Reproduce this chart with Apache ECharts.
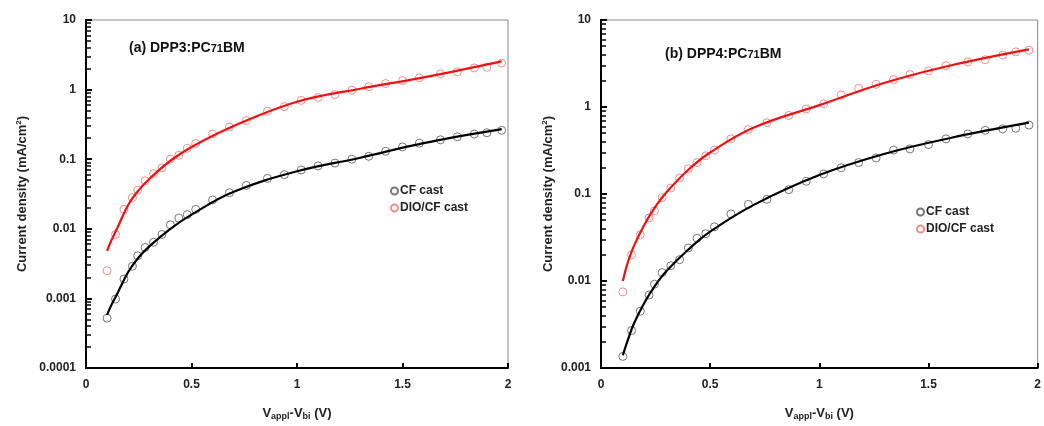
<!DOCTYPE html>
<html><head><meta charset="utf-8">
<script src="https://cdn.jsdelivr.net/npm/echarts@6/dist/echarts.min.js"></script>
<style>html,body{margin:0;padding:0;background:#fff}#c{width:1044px;height:426px}</style>
</head><body><div id="c"></div>
<script>
// ---- Panel (a) DPP3:PC71BM ----
var xA = [0.1,0.14,0.18,0.22,0.245,0.28,0.32,0.36,0.40,0.44,0.48,0.52,0.60,0.68,0.76,0.86,0.94,1.02,1.10,1.18,1.26,1.34,1.42,1.50,1.58,1.68,1.76,1.84,1.90,1.97];
var cfA = [0.00052,0.00098,0.0019,0.0029,0.0041,0.0054,0.0064,0.0083,0.0114,0.0143,0.016,0.019,0.026,0.033,0.042,0.053,0.060,0.070,0.080,0.088,0.10,0.11,0.13,0.15,0.17,0.19,0.21,0.23,0.24,0.26];
var dioA = [0.0025,0.0083,0.019,0.028,0.036,0.049,0.062,0.075,0.10,0.114,0.143,0.168,0.23,0.29,0.36,0.49,0.57,0.70,0.77,0.85,0.98,1.1,1.22,1.35,1.48,1.68,1.8,2.05,2.1,2.4];
var fitXA = [0.1,0.12,0.15,0.2,0.25,0.3,0.4,0.5,0.7,1.0,1.3,1.6,1.97];
var cfFitA = [0.00058,0.0008,0.0012,0.0024,0.0039,0.0056,0.0100,0.016,0.034,0.067,0.105,0.17,0.27];
var dioFitA = [0.0048,0.0068,0.0105,0.022,0.036,0.052,0.095,0.15,0.30,0.67,1.03,1.5,2.55];
// ---- Panel (b) DPP4:PC71BM ----
var xB = [0.1,0.14,0.18,0.22,0.245,0.28,0.32,0.36,0.40,0.44,0.48,0.52,0.595,0.675,0.76,0.86,0.94,1.02,1.10,1.18,1.26,1.34,1.415,1.50,1.58,1.68,1.76,1.84,1.90,1.96];
var cfB = [0.00136,0.0027,0.0045,0.0069,0.0092,0.0125,0.015,0.0176,0.024,0.031,0.035,0.042,0.059,0.076,0.087,0.112,0.14,0.17,0.20,0.23,0.26,0.32,0.33,0.37,0.43,0.49,0.54,0.56,0.57,0.62];
var dioB = [0.0075,0.020,0.034,0.053,0.064,0.091,0.117,0.153,0.195,0.23,0.275,0.32,0.43,0.55,0.66,0.80,0.95,1.09,1.38,1.64,1.82,2.07,2.36,2.6,2.99,3.3,3.5,3.95,4.3,4.5];
var fitXB = [0.1,0.12,0.15,0.2,0.25,0.3,0.4,0.5,0.7,1.0,1.3,1.6,1.96];
var cfFitB = [0.0014,0.002,0.0032,0.0057,0.0090,0.013,0.023,0.037,0.075,0.165,0.29,0.44,0.66];
var dioFitB = [0.010,0.0155,0.025,0.045,0.072,0.105,0.19,0.30,0.58,1.05,1.9,3.0,4.6];
// ---- tick labels ----
var xTicks = ['0','0.5','1','1.5','2'];
var decadesA = [1e-4,1e-3,1e-2,1e-1,1];
var decadesB = [1e-3,1e-2,1e-1,1];
var minorMult = [2,3,4,5,6,7,8,9];
function minorVals(decs){ var out=[]; decs.forEach(function(d){ minorMult.forEach(function(k){ out.push(+(d*k).toPrecision(3)); }); }); return out; }

function pairs(xs, ys){ return xs.map(function(x,i){ return [x, ys[i]]; }); }

var FONT = '"Liberation Sans", Arial, sans-serif';
var lblStyle = {color:'#222', fontWeight:'bold', fontSize:12, fontFamily:FONT};

function xAxis(gi){
  return {
    type:'value', gridIndex:gi, min:0, max:2, interval:0.5,
    axisLine:{show:true, onZero:false, lineStyle:{color:'#000', width:2}},
    axisTick:{show:true, inside:true, length:5, lineStyle:{color:'#000', width:2}},
    splitLine:{show:false},
    axisLabel:Object.assign({margin:11, formatter:function(v){ return xTicks[Math.round(v/0.5)]; }}, lblStyle),
    name:'{v|V}{s|appl}{v|-V}{s|bi}{v| (V)}',
    nameLocation:'middle', nameGap:36,
    nameTextStyle:{rich:{
      v:{fontSize:13, fontWeight:'bold', color:'#222', fontFamily:FONT, lineHeight:18},
      s:{fontSize:9, fontWeight:'bold', color:'#222', fontFamily:FONT, lineHeight:18, padding:[7,0,0,0]}
    }}
  };
}
function yAxisMain(gi, mn, gap){
  return {
    type:'log', logBase:10, gridIndex:gi, min:mn, max:10,
    axisLine:{show:true, onZero:false, lineStyle:{color:'#000', width:2}},
    axisTick:{show:true, inside:true, length:6, lineStyle:{color:'#000', width:2}},
    splitLine:{show:false},
    axisLabel:Object.assign({margin:10, formatter:function(v){ return String(+v.toPrecision(3)); }}, lblStyle),
    name:'{t|Current density (mA/cm}{p|2}{t|)}',
    nameLocation:'middle', nameGap:gap, nameRotate:90,
    nameTextStyle:{rich:{
      t:{fontSize:13, fontWeight:'bold', color:'#222', fontFamily:FONT, lineHeight:18},
      p:{fontSize:8, fontWeight:'bold', color:'#222', fontFamily:FONT, lineHeight:18, padding:[0,0,6,0]}
    }}
  };
}
// overlay log axis carrying only the minor ticks (2..9 of each decade)
function yAxisMinor(gi, mn, decs){
  return {
    type:'log', logBase:10, gridIndex:gi, min:mn, max:10, position:'left',
    axisLine:{show:true, onZero:false, lineStyle:{color:'#000', width:2}},
    axisTick:{show:true, inside:true, length:5, customValues:minorVals(decs), lineStyle:{color:'#000', width:1.5}},
    axisLabel:{show:false}, splitLine:{show:false}
  };
}

var cfStyle = {color:'transparent', borderColor:'#555', borderWidth:1};
var dioStyle = {color:'transparent', borderColor:'#f07070', borderWidth:1};

function scatter(name, gi, xs, ys, st){
  return {name:name, type:'scatter', xAxisIndex:gi, yAxisIndex:gi*2, data:pairs(xs, ys),
    symbol:'circle', symbolSize:8, itemStyle:st, z:3};
}
function fit(name, gi, xs, ys, col){
  return {name:name, type:'line', xAxisIndex:gi, yAxisIndex:gi*2, data:pairs(xs, ys),
    smooth:0.4, showSymbol:false, symbol:'none', lineStyle:{color:col, width:2.2}, z:4, silent:true};
}

var titleRich = {
  a:{fontSize:14, fontWeight:'bold', color:'#111', fontFamily:FONT},
  b:{fontSize:11, fontWeight:'bold', color:'#111', fontFamily:FONT, padding:[2,0,0,0]}
};
var legendText = {fontSize:12, fontWeight:'bold', color:'#222', fontFamily:FONT, padding:[0,0,0,-3]};

var option = {
  backgroundColor:'#fff',
  animation:false,
  title:[
    {text:'{a|(a) DPP3:PC}{b|71}{a|BM}', left:124, top:36, textStyle:{rich:titleRich}},
    {text:'{a|(b) DPP4:PC}{b|71}{a|BM}', left:660, top:42, textStyle:{rich:titleRich}}
  ],
  legend:[
    {data:['CF cast','DIO/CF cast'], orient:'vertical', left:385, top:180, itemGap:5, itemWidth:7, itemHeight:7,
     icon:'circle', textStyle:legendText},
    {data:['CF cast','DIO/CF cast'], orient:'vertical', left:911, top:201, itemGap:5, itemWidth:7, itemHeight:7,
     icon:'circle', textStyle:legendText}
  ],
  grid:[
    {left:86, top:20, width:422, height:355, show:true, borderColor:'#888', borderWidth:1, backgroundColor:'transparent'},
    {left:601, top:20, width:441, height:357, show:true, borderColor:'#888', borderWidth:1, backgroundColor:'transparent'}
  ],
  xAxis:[xAxis(0), xAxis(1)],
  yAxis:[yAxisMain(0,0.0001,55), yAxisMinor(0,0.0001,decadesA), yAxisMain(1,0.001,44), yAxisMinor(1,0.001,decadesB)],
  series:[
    scatter('CF cast',0,xA,cfA,cfStyle),
    scatter('DIO/CF cast',0,xA,dioA,dioStyle),
    fit('CF fit a',0,fitXA,cfFitA,'#000'),
    fit('DIO fit a',0,fitXA,dioFitA,'#ee1111'),
    scatter('CF cast',1,xB,cfB,cfStyle),
    scatter('DIO/CF cast',1,xB,dioB,dioStyle),
    fit('CF fit b',1,fitXB,cfFitB,'#000'),
    fit('DIO fit b',1,fitXB,dioFitB,'#ee1111')
  ]
};
echarts.init(document.getElementById('c'), null, {renderer:'canvas'}).setOption(option);
</script>
</body></html>
